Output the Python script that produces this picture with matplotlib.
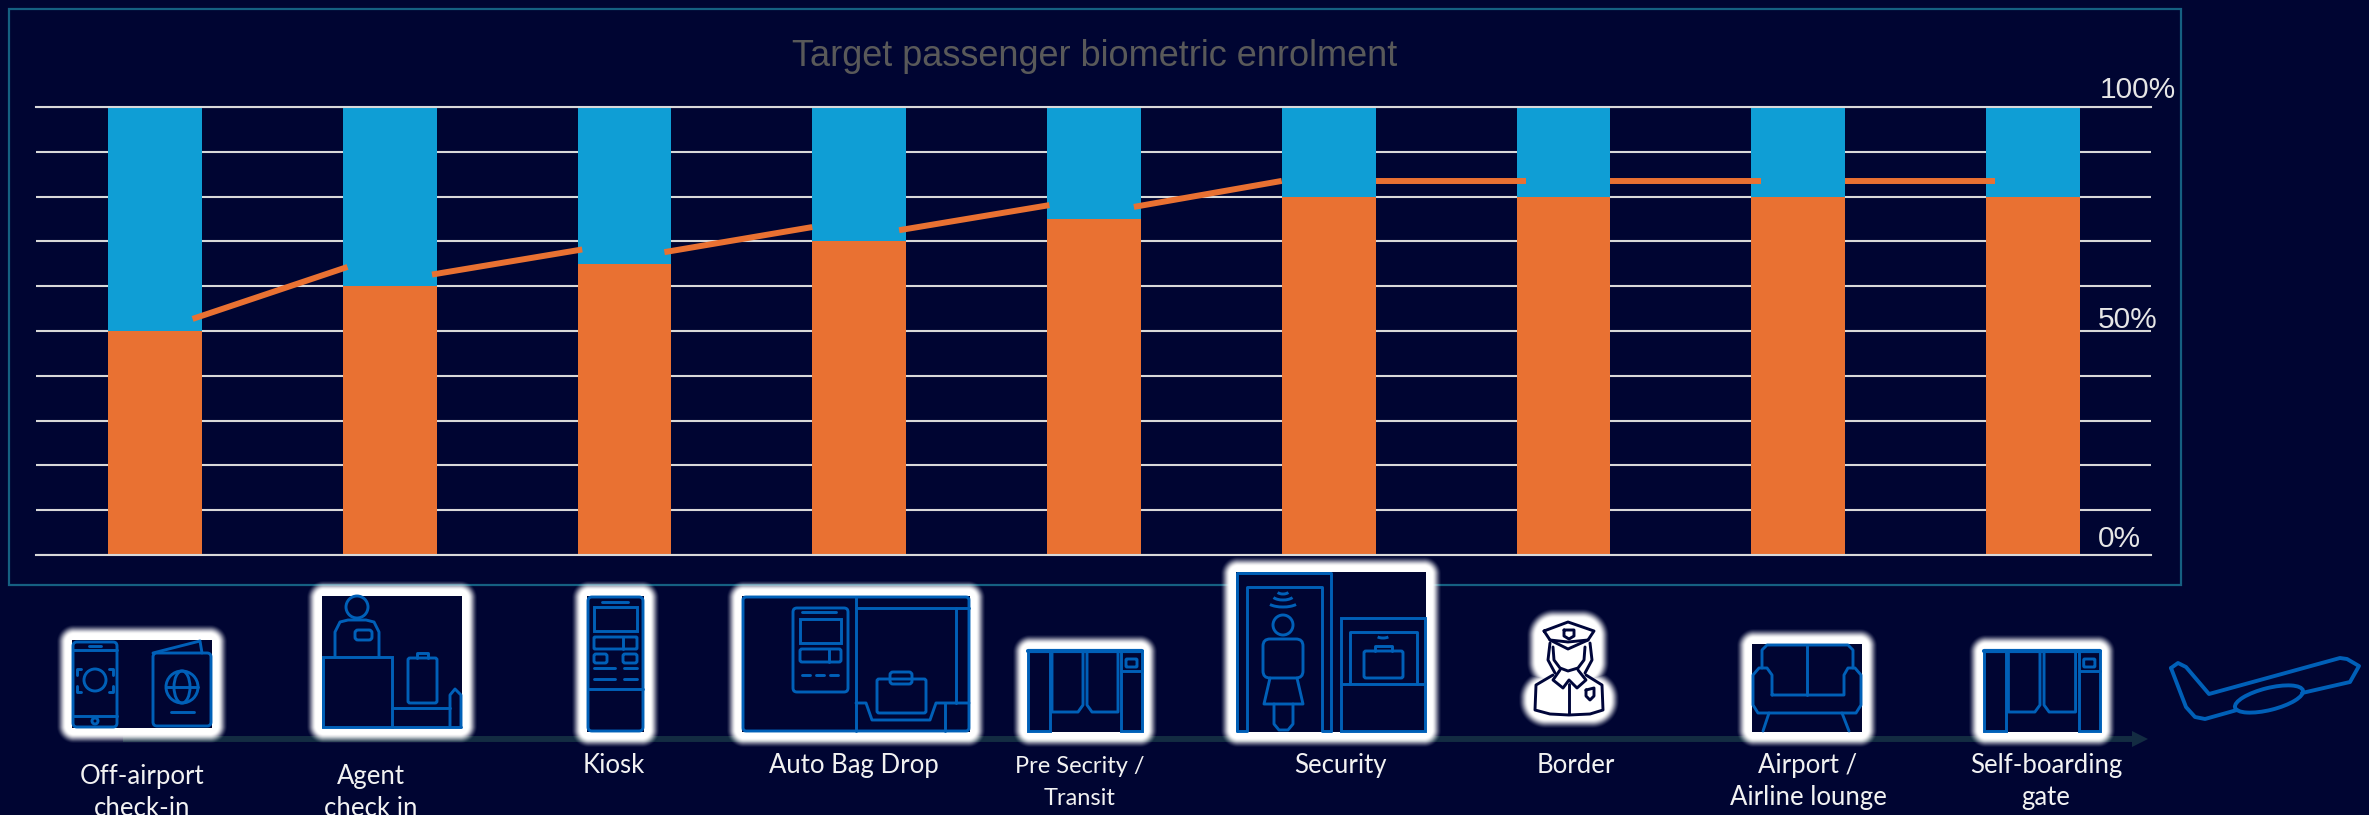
import numpy as np
import matplotlib
matplotlib.use('Agg')
import matplotlib.pyplot as plt
from matplotlib.patches import Rectangle, FancyBboxPatch, Ellipse, Circle, Polygon, Arc

W, H = 2369, 815
BG = '#000532'
ORANGE = '#e97132'
SKY = '#0f9ed5'
ICON = '#0060b8'
GRID = '#d9d9d9'

touchpoints = ['Off-airport', 'Agent', 'Kiosk', 'Auto Bag Drop', 'Pre Secrity', 'Security',
               'Border', 'Airport lounge', 'Self-boarding gate']
enrolled = [50, 60, 65, 70, 75, 80, 80, 80, 80]
remaining = [50, 40, 35, 30, 25, 20, 20, 20, 20]
# orange trend pieces between the bars, start and end of each
seg_x0 = [0.16, 1.18, 2.17, 3.17, 4.17, 5.20, 6.20, 7.20]
seg_x1 = [0.82, 1.82, 2.80, 3.81, 4.80, 5.84, 6.84, 7.84]
seg_y0 = [52.7, 62.6, 67.6, 72.5, 77.7, 83.5, 83.5, 83.5]
seg_y1 = [64.3, 68.2, 73.2, 78.1, 83.5, 83.5, 83.5, 83.5]
tick_labels = ['100%', '50%', '0%']
tick_values = [100, 50, 0]
tick_dx = [-51, -53, -53]
tick_dy = [9, 3, 8]
step_labels = ['Off-airport\ncheck-in', 'Agent\ncheck in', 'Kiosk', 'Auto Bag Drop', 'Pre Secrity /\nTransit',
               'Security', 'Border', 'Airport /\nAirline lounge', 'Self-boarding\ngate']
label_x = [142, 371, 614, 854, 1080, 1340, 1576, 1808, 2046]
label_y = [784, 784, 773, 773, 773, 773, 773, 773, 773]
label_size = [18.5, 18.5, 18.5, 18.5, 17, 18.5, 18.5, 18.5, 18.5]

fig = plt.figure(figsize=(W / 100, H / 100), dpi=100, facecolor=BG)

# chart
ax = fig.add_axes([36 / W, (H - 555) / H, 2115 / W, 448 / H], facecolor='none')
x = np.arange(len(enrolled))
ax.bar(x, enrolled, width=0.4, color=ORANGE, zorder=2)
ax.bar(x, remaining, width=0.4, bottom=enrolled, color=SKY, zorder=2)
for a, b, c, d in zip(seg_x0, seg_x1, seg_y0, seg_y1):
    ax.plot([a, b], [c, d], color=ORANGE, lw=4.3, solid_capstyle='butt', zorder=3)
ax.set_xlim(-0.507, 8.503)
ax.set_ylim(0, 100)
ax.set_yticks(range(0, 101, 10))
ax.set_xticks([])
ax.tick_params(length=0, labelleft=False)
ax.grid(axis='y', color=GRID, lw=1.5, zorder=1)
ax.set_axisbelow(True)
for s in ['left', 'right']:
    ax.spines[s].set_visible(False)
for s in ['top', 'bottom']:
    ax.spines[s].set_color(GRID)
    ax.spines[s].set_linewidth(1.5)
for lab, v, dx, dy in zip(tick_labels, tick_values, tick_dx, tick_dy):
    ax.annotate(lab, xy=(1, v), xycoords=ax.get_yaxis_transform(), xytext=(dx, dy), textcoords='offset pixels',
                family='Liberation Sans', fontsize=21.5, color='#e6e6e6', ha='left', va='baseline', zorder=5)

# everything else is placed in image pixels
ov = fig.add_axes([0, 0, 1, 1], facecolor='none')
ov.set_xlim(0, W)
ov.set_ylim(H, 0)
ov.axis('off')

ov.add_patch(Rectangle((9, 9), 2172, 576, fill=False, ec='#156082', lw=1.6, zorder=1))
ov.text(1094.5, 66, 'Target passenger biometric enrolment', family=['Liberation Sans Narrow', 'Liberation Sans'],
        fontsize=26, color='#595959', ha='center', va='baseline', zorder=1)

# journey arrow
ov.plot([123, 2134], [739, 739], color='#132c42', lw=4.3, solid_capstyle='butt', zorder=1)
ov.add_patch(Polygon([(2132, 731), (2148, 739), (2132, 747)], fc='#132c42', ec='none', zorder=1))


# white glow behind the icons
def box_dist(xx, yy, x0, y0, x1, y1, r):
    cx, cy = (x0 + x1) / 2, (y0 + y1) / 2
    qx = np.abs(xx - cx) - (x1 - x0) / 2 + r
    qy = np.abs(yy - cy) - (y1 - y0) / 2 + r
    return np.hypot(np.maximum(qx, 0), np.maximum(qy, 0)) + np.minimum(np.maximum(qx, qy), 0) - r


icon_boxes = [(72, 640, 212, 728), (322, 596, 462, 728), (587, 596, 644, 732), (742, 596, 970, 732),
              (1028, 650, 1142, 732), (1236, 572, 1426, 732), (1752, 644, 1862, 732), (1984, 650, 2100, 732)]
yy, xx = np.mgrid[0:H, 0:W]
xx = xx + 0.5
yy = yy + 0.5
dist = np.full((H, W), 1e6)
for b in icon_boxes:
    dist = np.minimum(dist, box_dist(xx, yy, b[0] - 6, b[1] - 6, b[2] + 6, b[3] + 6, 8))
dist = np.minimum(dist, box_dist(xx, yy, 1536, 618, 1600, 680, 18))
dist = np.minimum(dist, box_dist(xx, yy, 1528, 680, 1610, 719, 18))
alpha = np.clip((10 - dist) / 10, 0, 1)
alpha = alpha * alpha * (3 - 2 * alpha)
glow = np.ones((H, W, 4))
glow[..., 3] = alpha
ov.imshow(glow, extent=(0, W, H, 0), interpolation='nearest', aspect='auto', zorder=2)
ov.set_xlim(0, W)
ov.set_ylim(H, 0)

LW = 2.1


def box(x0, y0, x1, y1, r=0, color=ICON, lw=LW, fill='none'):
    if r:
        p = FancyBboxPatch((x0 + r, y0 + r), x1 - x0 - 2 * r, y1 - y0 - 2 * r, boxstyle='round,pad=%g' % r,
                           fc=fill, ec=color, lw=lw, zorder=4)
    else:
        p = Rectangle((x0, y0), x1 - x0, y1 - y0, fc=fill, ec=color, lw=lw, zorder=4)
    ov.add_patch(p)


def line(pts, color=ICON, lw=LW):
    ov.plot([p[0] for p in pts], [p[1] for p in pts], color=color, lw=lw, solid_joinstyle='round',
            solid_capstyle='round', zorder=4)


def circle(cx, cy, r, color=ICON, lw=LW):
    ov.add_patch(Circle((cx, cy), r, fc='none', ec=color, lw=lw, zorder=4))


def arc(cx, cy, w, h, t0, t1, color=ICON, lw=LW):
    ov.add_patch(Arc((cx, cy), w, h, theta1=t0, theta2=t1, ec=color, lw=lw, zorder=4))


for b in icon_boxes:
    ov.add_patch(Rectangle((b[0], b[1]), b[2] - b[0], b[3] - b[1], fc=BG, ec='none', zorder=3))

# phone and passport
box(73, 642, 117, 727, 4)
line([(73, 650), (117, 650)])
line([(89, 646), (101, 646)])
line([(73, 716), (117, 716)])
circle(95, 721, 3)
circle(95, 680, 11)
for cx, sx in [(77, 1), (113, -1)]:
    line([(cx + 4 * sx, 669), (cx, 669), (cx, 675)])
    line([(cx + 4 * sx, 692), (cx, 692), (cx, 686)])
box(153, 653, 211, 726, 4)
line([(153, 653), (200, 641), (202, 653)])
circle(182, 687, 16)
ov.add_patch(Ellipse((182, 687), 16, 32, fc='none', ec=ICON, lw=LW, zorder=4))
line([(166, 687), (198, 687)])
line([(171, 712), (194, 712)])

# agent desk
circle(357, 607, 11)
line([(335, 657), (335, 632), (340, 622), (348, 620), (366, 620), (374, 622), (379, 632), (379, 657)])
box(355, 630, 372, 640, 3)
box(323, 657, 392, 727)
box(408, 658, 437, 703, 2)
line([(417, 658), (417, 653), (428, 653), (428, 658)])
line([(392, 708), (450, 708)])
line([(392, 727), (461, 727)])
line([(450, 727), (450, 695), (455, 689), (461, 695), (461, 727)])

# kiosk
box(588, 597, 643, 731, 4)
line([(602, 602), (628, 602)])
box(594, 607, 637, 631)
box(594, 637, 637, 649, 1)
line([(623, 637), (623, 649)])
box(594, 654, 607, 663, 2)
box(623, 654, 637, 663, 2)
for ly in [668, 679]:
    line([(594, ly), (615, ly)])
    line([(624, ly), (637, ly)])
line([(588, 689), (643, 689)])

# bag drop
box(743, 597, 969, 731, 3)
box(793, 608, 848, 692, 4)
line([(802, 612), (836, 612)])
box(800, 619, 841, 643)
box(800, 649, 841, 662, 2)
line([(829, 649), (829, 662)])
for d in [802, 816, 830]:
    line([(d, 675), (d + 8, 675)])
line([(856, 597), (856, 731)])
line([(856, 608), (969, 608)])
line([(956, 608), (956, 703)])
line([(856, 703), (866, 703), (872, 720), (930, 720), (936, 703), (969, 703)])
line([(945, 703), (945, 731)])
box(877, 679, 926, 713, 2)
box(890, 672, 912, 684, 3)


def gate(x0, y0, x1, y1):
    sx = (x1 - x0) / 114
    sy = (y1 - y0) / 82
    px = lambda v: x0 + v * sx
    py = lambda v: y0 + v * sy
    line([(x0, y0 + 1), (x1, y0 + 1)], lw=3)
    box(px(0), py(1), px(22), py(81))
    line([(px(24), py(1)), (px(24), py(62)), (px(50), py(62)), (px(55), py(55)), (px(55), py(1))])
    line([(px(59), py(1)), (px(59), py(55)), (px(64), py(62)), (px(90), py(62)), (px(90), py(1))])
    box(px(93), py(1), px(114), py(81))
    box(px(98), py(9), px(109), py(17), 1)
    line([(px(93), py(21)), (px(114), py(21))])


gate(1028, 650, 1142, 732)
gate(1984, 650, 2100, 732)

# security arch and scanner
line([(1237, 731), (1237, 573), (1331, 573), (1331, 731)])
line([(1237, 731), (1247, 731), (1247, 587), (1322, 587), (1322, 731), (1331, 731)])
arc(1283, 601, 32, 12, 15, 165)
arc(1283, 595, 22, 10, 15, 165)
arc(1283, 591, 12, 6, 15, 165)
circle(1283, 625, 10)
box(1263, 639, 1303, 678, 7)
line([(1270, 678), (1264, 704), (1303, 704), (1297, 678)])
line([(1274, 704), (1274, 724), (1279, 730), (1288, 730), (1293, 724), (1293, 704)])
box(1341, 618, 1425, 731)
line([(1341, 684), (1425, 684)])
line([(1350, 684), (1350, 632), (1417, 632), (1417, 684)])
arc(1383, 635, 14, 6, 20, 160)
box(1364, 651, 1403, 678, 2)
line([(1375, 651), (1375, 646), (1392, 646), (1392, 651)])

# border officer
DK = '#00063a'
line([(1544, 631), (1568, 622), (1594, 631), (1588, 640), (1568, 649), (1550, 640), (1544, 631)], color=DK)
line([(1550, 640), (1568, 642), (1588, 640)], color=DK)
line([(1564, 630), (1574, 630), (1574, 636), (1569, 639), (1564, 636), (1564, 630)], color=DK)
line([(1550, 643), (1548, 660), (1555, 673)], color=DK)
line([(1590, 643), (1592, 660), (1585, 673)], color=DK)
line([(1553, 647), (1554, 660), (1560, 668), (1568, 671), (1578, 668), (1584, 660), (1585, 647)], color=DK)
line([(1560, 670), (1553, 680), (1563, 688), (1569, 680), (1577, 688), (1586, 680), (1578, 670)], color=DK)
line([(1553, 675), (1536, 685), (1535, 710), (1550, 714), (1569, 715), (1590, 714), (1603, 710), (1602, 685),
      (1586, 675)], color=DK)
line([(1569, 684), (1569, 714)], color=DK)
line([(1586, 690), (1594, 688), (1594, 696), (1590, 700), (1586, 696), (1586, 690)], color=DK)

# lounge sofa
line([(1762, 668), (1762, 650), (1767, 645), (1848, 645), (1853, 650), (1853, 668)])
line([(1807, 645), (1807, 695)])
line([(1772, 695), (1772, 675), (1767, 668), (1759, 668), (1753, 675), (1753, 705), (1758, 713), (1856, 713),
      (1861, 705), (1861, 675), (1855, 668), (1848, 668), (1844, 675), (1844, 695), (1772, 695)])
line([(1769, 713), (1763, 731)])
line([(1842, 713), (1849, 731)])

# plane
line([(2171, 668), (2178, 663), (2186, 667), (2209, 694), (2340, 658), (2347, 659), (2359, 666), (2350, 682),
      (2302, 693)], lw=2.8)
line([(2237, 710), (2205, 719), (2195, 717), (2186, 707), (2171, 668)], lw=2.8)
ov.add_patch(Ellipse((2269, 699), 70, 22, angle=-14, fc='none', ec=ICON, lw=2.8, zorder=4))

# step names, one text per row so the rows sit where they should
for lab, lx, ly, fs in zip(step_labels, label_x, label_y, label_size):
    for i, row in enumerate(lab.split('\n')):
        ov.text(lx, ly + i * 32, row, family='Lato', fontsize=fs, color='#f2f2f2', ha='center', va='baseline',
                zorder=5)

fig.savefig('out.png', dpi=100, facecolor=BG)
